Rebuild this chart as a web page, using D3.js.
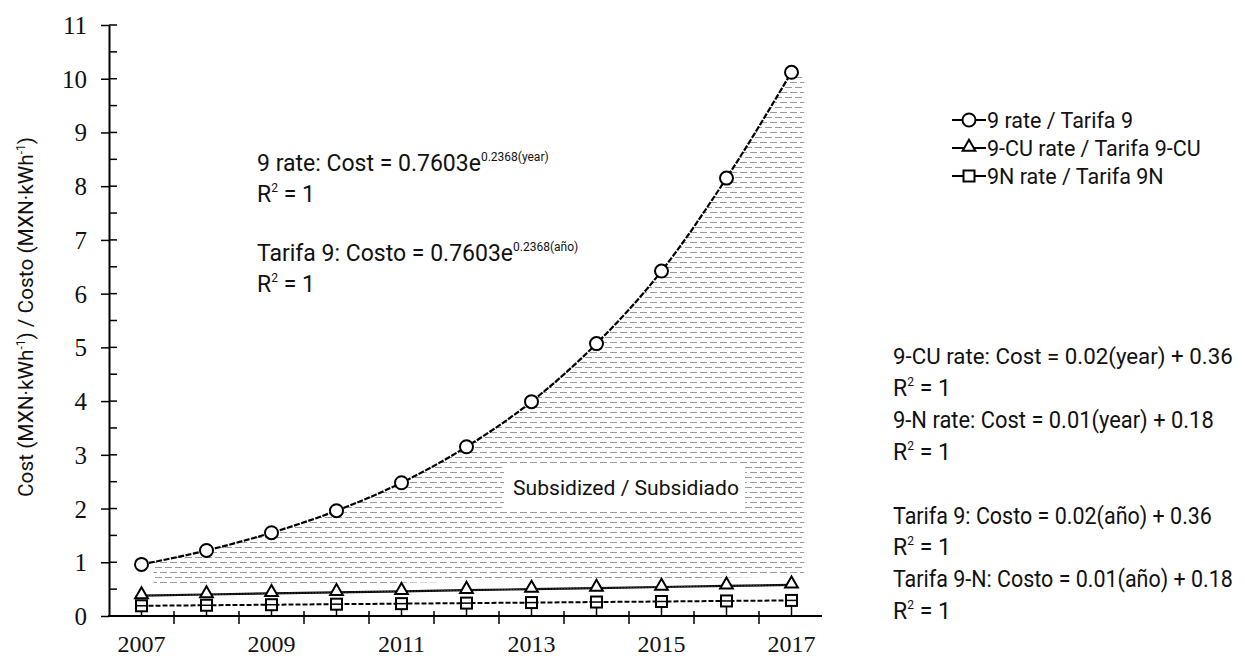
<!DOCTYPE html>
<html>
<head>
<meta charset="utf-8">
<script src="https://cdn.jsdelivr.net/npm/d3@7"></script>
<style>
  html, body { margin: 0; padding: 0; background: #fff; }
  .sans { font-family: "Liberation Sans Narrow", "Roboto", "Liberation Sans", sans-serif; fill: #111; }
</style>
</head>
<body>
<svg id="chart" width="1245" height="658"></svg>
<script>
// Electricity rate costs, 2007–2017
const years = ["2007","2008","2009","2010","2011","2012","2013","2014","2015","2016","2017"];
const rate9   = [0.96, 1.22, 1.55, 1.96, 2.48, 3.15, 3.99, 5.07, 6.42, 8.15, 10.12];
const rate9CU = [0.38, 0.40, 0.42, 0.44, 0.46, 0.48, 0.50, 0.52, 0.54, 0.56, 0.58];
const rate9N  = [0.19, 0.20, 0.21, 0.22, 0.23, 0.24, 0.25, 0.26, 0.27, 0.28, 0.29];
const yTicks = [0,1,2,3,4,5,6,7,8,9,10,11];
const xTickLabels = ["2007","2009","2011","2013","2015","2017"];
const legendLabels = ["9 rate / Tarifa 9", "9-CU rate / Tarifa 9-CU", "9N rate / Tarifa 9N"];

const svg = d3.select("#chart");
const x = d3.scaleBand().domain(years).range([109, 824]).padding(0);
const y = d3.scaleLinear().domain([0, 11]).range([616, 25]);
const cx = d => x(d) + x.bandwidth() / 2;
const serif = "Liberation Serif, DejaVu Serif, serif";

// hatch pattern for the subsidized area
const defs = svg.append("defs");
const pat = defs.append("pattern").attr("id", "hatch")
  .attr("patternUnits", "userSpaceOnUse").attr("width", 10).attr("height", 10);
[[0, 7, 2.5], [5, 12, 7.5], [-5, 2, 7.5]].forEach(([a, b, yy]) =>
  pat.append("line").attr("x1", a).attr("x2", b).attr("y1", yy).attr("y2", yy)
    .attr("stroke", "#9a9a9a").attr("stroke-width", 1));
defs.append("clipPath").attr("id", "hatchClip").append("rect")
  .attr("x", cx(years[0]) + 12).attr("y", 0)
  .attr("width", cx(years[years.length - 1]) + 13 - (cx(years[0]) + 12)).attr("height", 658);

const curveLine = d3.line().x((d, i) => cx(years[i])).y(d => y(d)).curve(d3.curveMonotoneX);
const straightLine = d3.line().x((d, i) => cx(years[i])).y(d => y(d));

// subsidized region between the 9 rate curve and the 9-CU line
const n = years.length;
const xEnd = cx(years[n - 1]) + 13;
const bottomFirst = y(rate9CU[0] + 0.16), bottomLast = y(rate9CU[n - 1] + 0.16);
const areaPath = curveLine(rate9) +
  `L${xEnd},${y(rate9[n - 1]) + 6}L${xEnd},${bottomLast}L${cx(years[0])},${bottomFirst}Z`;
svg.append("path").attr("d", areaPath).attr("fill", "url(#hatch)")
  .attr("clip-path", "url(#hatchClip)");

// label over the hatch
const subG = svg.append("g");
subG.append("rect").attr("x", 504).attr("y", 465).attr("width", 241).attr("height", 43).attr("fill", "#fff");
subG.append("text").attr("class", "sans").attr("x", 513).attr("y", 495)
  .attr("font-size", 21).attr("textLength", 226).attr("lengthAdjust", "spacingAndGlyphs")
  .text("Subsidized / Subsidiado");

// y axis
const yAxis = d3.axisLeft(y).tickValues(yTicks).tickSizeInner(8).tickSizeOuter(0).tickPadding(14);
const gy = svg.append("g").attr("transform", "translate(109,0)").call(yAxis);
gy.attr("font-family", serif).attr("font-size", 25);
gy.select(".domain").attr("stroke", "#000").attr("stroke-width", 2);
gy.selectAll(".tick line").attr("stroke", "#000").attr("stroke-width", 1.5);
gy.selectAll(".tick text").attr("fill", "#111").attr("dy", "0.34em");
// inward ticks at every half unit
gy.selectAll(".inTick").data(d3.range(0, 11.01, 0.5)).join("line").attr("class", "inTick")
  .attr("x1", 0).attr("x2", 8).attr("y1", d => y(d)).attr("y2", d => y(d))
  .attr("stroke", "#000").attr("stroke-width", 1.5);

// x axis: ticks on category boundaries, labels on every other year
const gx = svg.append("g");
gx.append("line").attr("x1", 108).attr("x2", 822).attr("y1", y(0)).attr("y2", y(0))
  .attr("stroke", "#000").attr("stroke-width", 2);
gx.selectAll(".xt").data(years.slice(1)).join("line").attr("class", "xt")
  .attr("x1", d => x(d)).attr("x2", d => x(d)).attr("y1", y(0) - 5).attr("y2", y(0) + 8)
  .attr("stroke", "#000").attr("stroke-width", 1.5);
gx.selectAll(".xl").data(xTickLabels).join("text").attr("class", "xl")
  .attr("x", d => cx(d)).attr("y", 652).attr("text-anchor", "middle")
  .attr("font-family", serif).attr("font-size", 24).attr("fill", "#111").text(d => d);

// y axis title
const yt = svg.append("text").attr("class", "sans").attr("font-size", 21)
  .attr("text-anchor", "middle").attr("transform", "translate(33,317) rotate(-90)")
  .attr("textLength", 360).attr("lengthAdjust", "spacingAndGlyphs");
yt.append("tspan").text("Cost (MXN·kWh");
yt.append("tspan").attr("font-size", 12).attr("dy", -8).text("-1");
yt.append("tspan").attr("dy", 8).text(") / Costo (MXN·kWh");
yt.append("tspan").attr("font-size", 12).attr("dy", -8).text("-1");
yt.append("tspan").attr("dy", 8).text(")");

// series lines
svg.append("path").attr("d", straightLine(rate9N)).attr("fill", "none")
  .attr("stroke", "#000").attr("stroke-width", 2).attr("stroke-dasharray", "5,2");
svg.append("path").attr("d", straightLine(rate9CU)).attr("fill", "none")
  .attr("stroke", "#000").attr("stroke-width", 2.2);
svg.append("path").attr("d", straightLine(rate9CU)).attr("fill", "none")
  .attr("stroke", "#888").attr("stroke-width", 0.8).attr("stroke-dasharray", "1,2");
svg.append("path").attr("d", curveLine(rate9)).attr("fill", "none")
  .attr("stroke", "#000").attr("stroke-width", 2.2).attr("stroke-dasharray", "6,1.5");

// markers
const sq = 11, tri = d3.symbol().type(d3.symbolTriangle).size(70);
svg.selectAll(".m9n").data(rate9N).join("rect").attr("class", "m9n")
  .attr("x", (d, i) => cx(years[i]) - sq / 2).attr("y", d => y(d) - sq / 2)
  .attr("width", sq).attr("height", sq).attr("fill", "#fff").attr("stroke", "#000").attr("stroke-width", 2);
svg.selectAll(".m9nl").data(rate9N).join("line").attr("class", "m9nl")
  .attr("x1", (d, i) => cx(years[i]) - sq / 2).attr("x2", (d, i) => cx(years[i]) + sq / 2)
  .attr("y1", d => y(d)).attr("y2", d => y(d)).attr("stroke", "#000").attr("stroke-width", 1.5);
svg.selectAll(".m9nt").data(rate9N).join("line").attr("class", "m9nt")
  .attr("x1", (d, i) => cx(years[i])).attr("x2", (d, i) => cx(years[i]))
  .attr("y1", d => y(d) + sq / 2).attr("y2", y(0)).attr("stroke", "#000").attr("stroke-width", 1.5);
svg.selectAll(".m9cu").data(rate9CU).join("path").attr("class", "m9cu")
  .attr("transform", (d, i) => `translate(${cx(years[i])},${y(d) - 1})`)
  .attr("d", tri).attr("fill", "#fff").attr("stroke", "#000").attr("stroke-width", 2);
svg.selectAll(".m9").data(rate9).join("circle").attr("class", "m9")
  .attr("cx", (d, i) => cx(years[i])).attr("cy", d => y(d)).attr("r", 6.5)
  .attr("fill", "#fff").attr("stroke", "#000").attr("stroke-width", 2);

// legend
const legend = svg.append("g").attr("transform", "translate(952,0)");
const legY = [120, 148, 176];
legendLabels.forEach((lab, i) => {
  const g = legend.append("g").attr("transform", `translate(0,${legY[i]})`);
  g.append("line").attr("x1", 0).attr("x2", 34).attr("y1", 0).attr("y2", 0)
    .attr("stroke", "#000").attr("stroke-width", 2);
  if (i === 0) g.append("circle").attr("cx", 17).attr("r", 6.5).attr("fill", "#fff").attr("stroke", "#000").attr("stroke-width", 2);
  if (i === 1) g.append("path").attr("transform", "translate(17,-1)").attr("d", tri).attr("fill", "#fff").attr("stroke", "#000").attr("stroke-width", 2);
  if (i === 2) g.append("rect").attr("x", 17 - sq / 2).attr("y", -sq / 2).attr("width", sq).attr("height", sq).attr("fill", "#fff").attr("stroke", "#000").attr("stroke-width", 2);
  g.append("text").attr("class", "sans").attr("x", 35).attr("y", 8).attr("font-size", 21.5).text(lab);
});

// regression equations; a line given a width is narrowed horizontally to fit it
function eqLine(xp, yp, parts, width) {
  const t = svg.append("text").attr("class", "sans").attr("x", 0).attr("y", 0).attr("font-size", 23);
  parts.forEach(p => {
    if (p.sup) t.append("tspan").attr("font-size", 12).attr("dy", -10).text(p.sup);
    else t.append("tspan").attr("dy", p.after ? 10 : 0).text(p.t);
  });
  let sx = 1;
  if (width) {
    const w = t.node().getComputedTextLength();
    if (w > 0) sx = Math.min(1, width / w);
  }
  t.attr("transform", `translate(${xp},${yp}) scale(${sx},1)`);
  return t;
}
const r2 = (xp, yp) => eqLine(xp, yp, [{t: "R"}, {sup: "2"}, {t: " = 1", after: true}]);

eqLine(257, 171, [{t: "9 rate: Cost = 0.7603e"}, {sup: "0.2368(year)"}]);
r2(257, 202);
eqLine(257, 261, [{t: "Tarifa 9: Costo = 0.7603e"}, {sup: "0.2368(año)"}]);
r2(257, 292);

eqLine(893, 364, [{t: "9-CU rate: Cost = 0.02(year) + 0.36"}], 340);
r2(893, 396);
eqLine(893, 428, [{t: "9-N rate: Cost = 0.01(year) + 0.18"}], 321);
r2(893, 460);
eqLine(893, 524, [{t: "Tarifa 9: Costo = 0.02(año) + 0.36"}], 319);
r2(893, 555);
eqLine(893, 587, [{t: "Tarifa 9-N: Costo = 0.01(año) + 0.18"}], 340);
r2(893, 619);
</script>
</body>
</html>
